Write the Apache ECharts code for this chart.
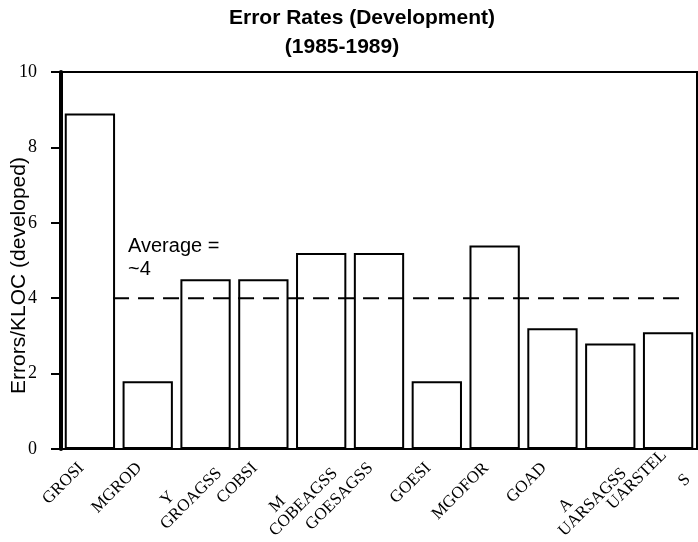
<!DOCTYPE html>
<html><head><meta charset="utf-8">
<script src="https://cdn.jsdelivr.net/npm/echarts@6/dist/echarts.min.js"></script>
<style>html,body{margin:0;padding:0;background:#fff}#c{width:698px;height:542px}</style>
</head><body><div id="c"></div>
<script>
const categories = ['GROSI', 'MGROD', 'Y\nGROAGSS', 'COBSI', 'M\nCOBEAGSS', 'GOESAGSS', 'GOESI', 'MGOFOR', 'GOAD', 'A\nUARSAGSS', 'UARSTEL\n\nS'];
const errorRates = [8.9, 1.8, 4.5, 4.5, 5.2, 5.2, 1.8, 5.4, 3.2, 2.8, 3.1];
const yTickValues = [0, 2, 4, 6, 8, 10];
const averageValue = 4;
const averageStart = 0.9;
const averageEnd = 10.7;
const averageLabel = 'Average =\n~4';
const titleLine1 = 'Error Rates (Development)';
const titleLine2 = '(1985-1989)';
const yAxisTitle = 'Errors/KLOC (developed)';

const chart = echarts.init(document.getElementById('c'), null, {renderer: 'canvas'});
const serif = 'Liberation Serif, Times New Roman, serif';
const sans = 'Liberation Sans, Arial, sans-serif';

function fmtLabel(v) {
  const parts = v.split('\n');
  if (parts.length === 1) return v;
  return parts.map((p, i) => i === 0 ? '{a|' + (p ? '    ' + p : ' ') + '}'
    : (i < parts.length - 1 ? '{c|' + (p || ' ') + '}' : '{b|' + p + '}')).join('\n');
}

// single-line labels sit a little further down the slant than wrapped ones
const axisData = categories.map(c => c.indexOf('\n') < 0
  ? {value: c, textStyle: {padding: [0, 12, 0, 0]}}
  : {value: c});

chart.setOption({
  animation: false,
  backgroundColor: '#fff',
  title: [
    {text: titleLine1, left: 357, top: 3, textAlign: 'center',
     textStyle: {fontFamily: sans, fontWeight: 'bold', fontSize: 21, color: '#000'}},
    {text: titleLine2, left: 337, top: 32, textAlign: 'center',
     textStyle: {fontFamily: sans, fontWeight: 'bold', fontSize: 21, color: '#000'}}
  ],
  grid: {left: 61, right: 1, top: 72, bottom: 93, show: true, borderColor: '#000', borderWidth: 2,
         backgroundColor: 'transparent', containLabel: false, outerBoundsMode: 'none'},
  xAxis: [
    {type: 'category', data: axisData, boundaryGap: true,
     axisLine: {show: true, lineStyle: {color: '#000', width: 2}},
     axisTick: {show: false},
     axisLabel: {rotate: 45, interval: 0, margin: 8, color: '#000', fontFamily: serif, fontSize: 17,
       formatter: fmtLabel,
       rich: {a: {align: 'left', fontFamily: serif, fontSize: 17, color: '#000', padding: [22, 0, 0, 0]},
              c: {fontFamily: serif, fontSize: 17, color: '#000'},
              b: {fontFamily: serif, fontSize: 17, color: '#000'}}}},
    {type: 'value', min: 0, max: categories.length, show: false}
  ],
  yAxis: {
    type: 'value', min: 0, max: 10, interval: 2,
    name: yAxisTitle, nameLocation: 'middle', nameGap: 31, nameMoveOverlap: false,
    nameTextStyle: {fontFamily: sans, fontSize: 21, color: '#000', padding: [0, 30, 0, 0]},
    axisLine: {show: true, lineStyle: {color: '#000', width: 4}},
    axisTick: {show: true, inside: false, length: 10, lineStyle: {color: '#000', width: 2}},
    axisLabel: {color: '#000', fontFamily: serif, fontSize: 18, margin: 24,
      formatter: v => yTickValues.includes(v) ? String(v) : ''},
    splitLine: {show: false}
  },
  series: [
    {type: 'bar', data: errorRates, barCategoryGap: '13%',
     itemStyle: {color: '#fff', borderColor: '#000', borderWidth: 2}},
    {type: 'line', xAxisIndex: 1, yAxisIndex: 0,
     data: [[averageStart, averageValue], [averageEnd, averageValue]],
     symbol: 'none', lineStyle: {color: '#000', width: 2, type: [16, 9]}, z: 5}
  ],
  graphic: [
    {type: 'text', left: 128, top: 235,
     style: {text: averageLabel, font: '20px ' + sans, fill: '#000', lineHeight: 23}}
  ]
});
</script></body></html>
